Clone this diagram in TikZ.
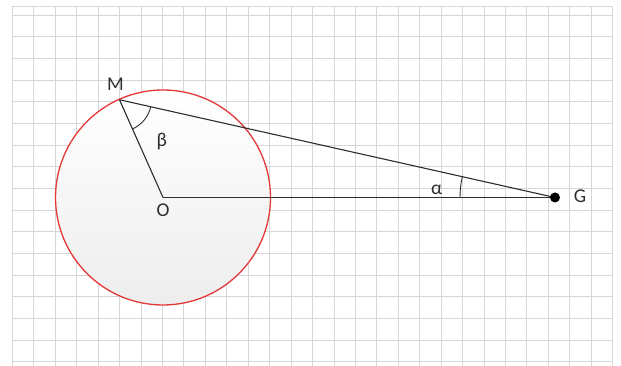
\documentclass[tikz,border=0pt]{standalone}
\usepackage{fontspec}
\setmainfont{Carlito}
\usetikzlibrary{positioning, calc, angles}
\definecolor{gridline}{RGB}{214,214,214}
\definecolor{rim}{RGB}{226,56,56}
\definecolor{ink}{RGB}{45,45,45}

\begin{document}
\begin{tikzpicture}[x=1pt, y=1pt,
  grd/.style={draw=gridline, line width=0.8pt},
  seg/.style={draw=ink, line width=1.1pt},
  arcm/.style={draw=ink, line width=0.9pt},
  lbl/.style={font=\fontsize{19.5}{21}\selectfont, text=ink, inner sep=0pt}]
\useasboundingbox (0,0) rectangle (621,366);
% grid paper
\foreach \i in {0,...,28} \draw[grd] (12.3+21.44*\i,0) -- (12.3+21.44*\i,360);
\foreach \j in {0,...,16} \draw[grd] (12.3,351-21.67*\j) -- (612.6,351-21.67*\j);
\draw[grd] (12.3,360) -- (612.6,360);
% points
\coordinate (O) at (163,168.5);
\coordinate (G) at (555,168.5);
\coordinate (M) at ($(O)+(114:107)$);
% circle
\shade[top color=white, bottom color=gray!14] (O) circle[radius=107.5];
\draw[draw=rim, line width=1.3pt] (O) circle[radius=107.5];
% triangle
\draw[seg] (M) -- (O);
\draw[seg] (O) -- (G);
\draw[seg] (G) -- (M);
\fill[black] (G) circle[radius=5];
\pic[arcm, angle radius=32pt] {angle=O--M--G};
\pic[arcm, angle radius=95pt] {angle=M--G--O};
% labels
\node[lbl] (labM) at ($(M)+(-4,16)$) {M};
\node[lbl] (labO) at ($(O)+(0,-13)$) {O};
\node[lbl] (labG) at ($(G)+(25,1)$) {G};
\node[lbl] (labB) at (161.7,224.3) {β};
\node[lbl] (labA) at (436.7,176) {α};
\end{tikzpicture}
\end{document}
